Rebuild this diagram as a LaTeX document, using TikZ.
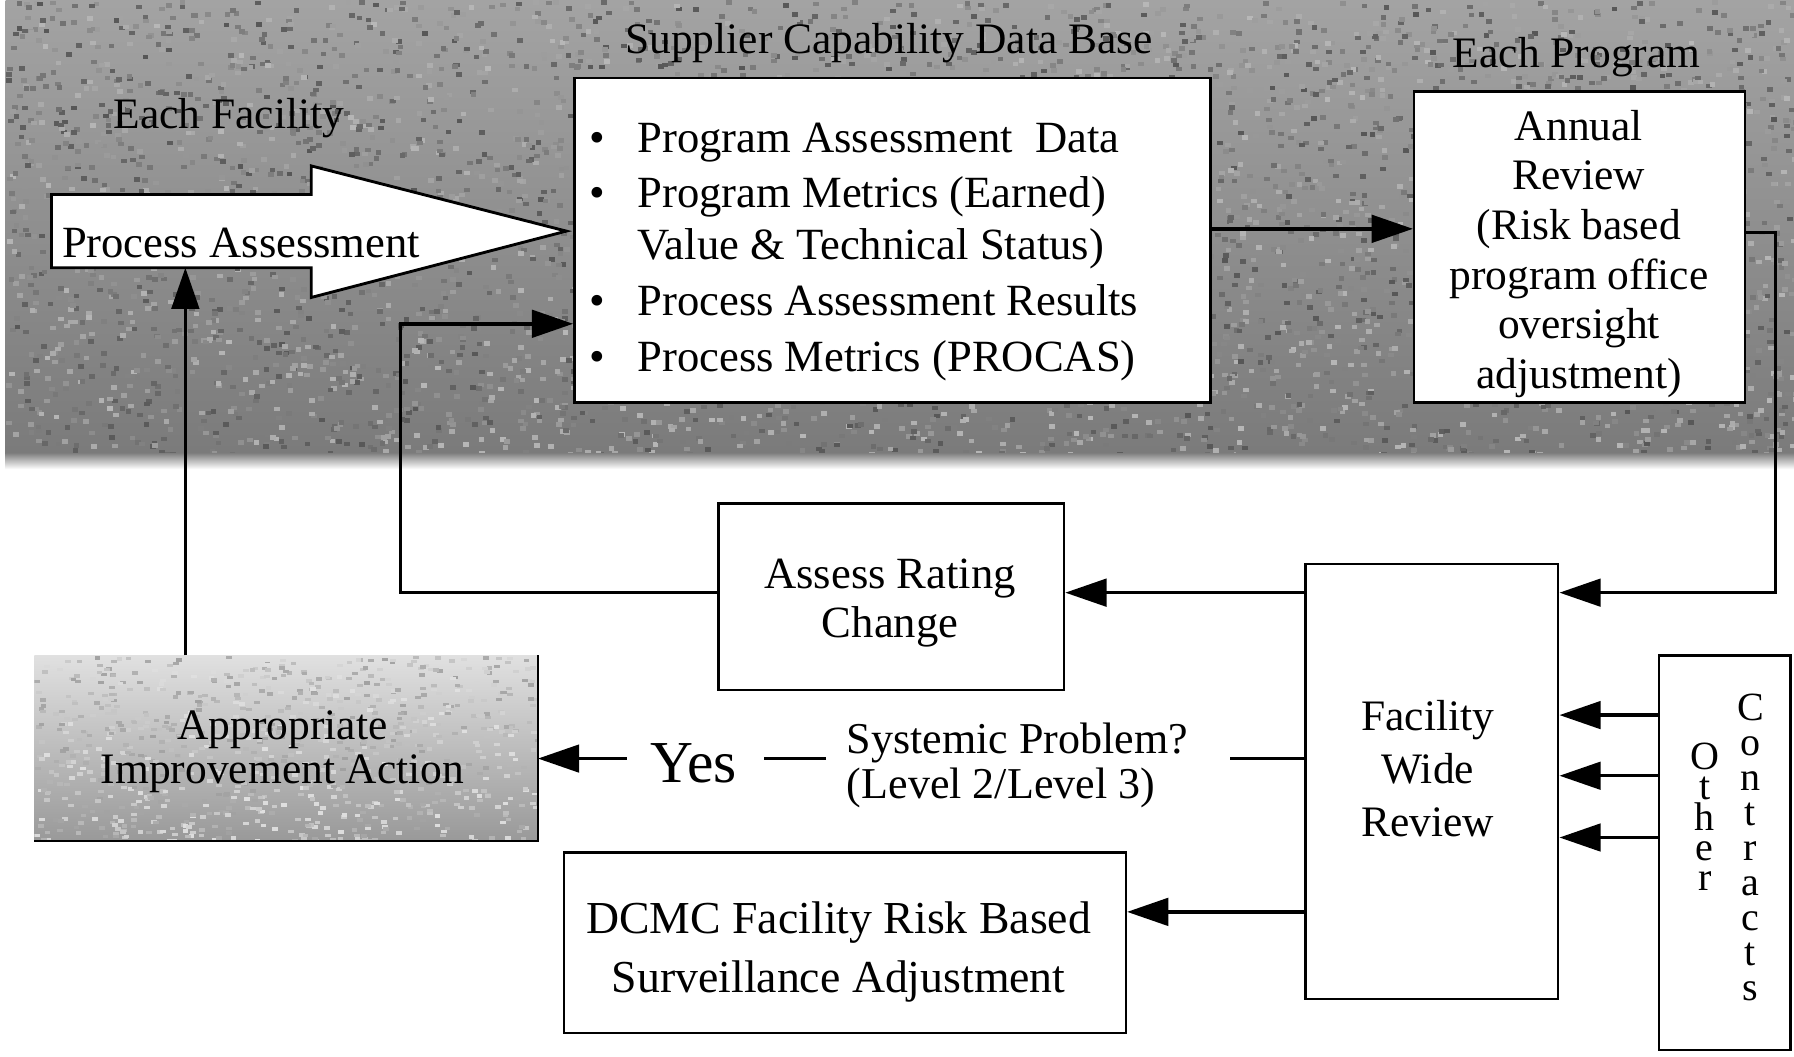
\documentclass[tikz,border=0pt]{standalone}
\usepackage{fontspec}
\setmainfont{Liberation Serif}
\usetikzlibrary{arrows.meta}
\lineskiplimit=-1000pt
\tikzset{
  box/.style={draw=black, line width=2.2pt, fill=white, inner sep=0pt},
  txt/.style={font=\fontsize{39}{46}\selectfont, inner sep=0pt, align=center},
  arr/.style={line width=3pt, -{Triangle[length=36pt,width=24pt]}},
  ln/.style={line width=3pt},
}
\begin{document}
\begin{tikzpicture}[x=1pt,y=-1pt]
\useasboundingbox (0,0) rectangle (1568,923);
\fill[white] (0,0) rectangle (1568,923);
% gray band
\begin{scope}
\clip (5,0) rectangle (1568,400);
\shade[top color=black!36, bottom color=black!52] (5,0) rectangle (1568,400);
\pgfmathsetseed{42}
\foreach \i in {1,...,5000}{
  \pgfmathsetmacro\rx{5+1563*rnd}
  \pgfmathsetmacro\ry{400*rnd}
  \pgfmathsetmacro\rg{28+38*rnd}
  \fill[black!\rg] (\rx,\ry) rectangle ++(5,4);
}
\end{scope}
\shade[top color=black!50, bottom color=white] (5,396) rectangle (1568,410);
% Appropriate improvement action box
\node[minimum width=440pt, minimum height=162pt, inner sep=0pt] (aia) at (250,654) {};
\begin{scope}
\clip (30,573) rectangle (470,735);
\shade[top color=black!12, bottom color=black!40] (30,573) rectangle (470,735);
\pgfmathsetseed{7}
\foreach \i in {1,...,900}{
  \pgfmathsetmacro\rx{30+440*rnd}
  \pgfmathsetmacro\ry{573+162*rnd}
  \pgfmathsetmacro\rg{12+25*rnd}
  \fill[black!\rg] (\rx,\ry) rectangle ++(5,3);
}
\end{scope}
\draw[line width=1.6pt] (aia.north east) -- (aia.south east) -- (aia.south west);
\node[txt, font=\fontsize{38}{38}\selectfont] (aiat) at (247,657) {Appropriate\\Improvement Action};

% titles
\node[txt, font=\fontsize{38}{46}\selectfont] (eft) at (200,103) {Each Facility};
\node[txt, font=\fontsize{38}{46}\selectfont] (sct) at (777,38) {Supplier Capability Data Base};
\node[txt, font=\fontsize{38}{46}\selectfont] (ept) at (1378,50) {Each Program};

% process assessment arrow
\draw[line width=2.5pt, fill=white, line join=miter]
  (45,170) -- (272,170) -- (272,145) -- (495,202) -- (272,260) -- (272,234) -- (45,234) -- cycle;
\node[txt, anchor=base west] (pat) at (54,225) {Process Assessment};
\coordinate (pab) at (162,234);

% database box
\node[box, minimum width=556pt, minimum height=284pt] (db) at (780,210) {};
\node[txt, anchor=base west] (bl1) at (515,133) {\textbullet};
\node[txt, anchor=base west] (bl2) at (515,181) {\textbullet};
\node[txt, anchor=base west] (bl4) at (515,276) {\textbullet};
\node[txt, anchor=base west] (bl5) at (515,325) {\textbullet};
\node[txt, anchor=base west] (d1) at (557,133) {Program Assessment\ \ Data};
\node[txt, anchor=base west] (d2) at (557,181) {Program Metrics (Earned)};
\node[txt, anchor=base west] (d3) at (557,227) {Value \& Technical Status)};
\node[txt, anchor=base west] (d4) at (557,276) {Process Assessment Results};
\node[txt, anchor=base west] (d5) at (557,325) {Process Metrics (PROCAS)};

% annual review box
\node[box, minimum width=289pt, minimum height=272pt] (ar) at (1380.5,216) {};
\node[txt, font=\fontsize{38}{43.4}\selectfont] (art) at (1380,222)
  {Annual\\Review\\(Risk based\\program office\\oversight\\adjustment)};

% assess rating change
\node[box, minimum width=302pt, minimum height=163pt] (ac) at (779,521.5) {};
\node[txt, font=\fontsize{39}{43}\selectfont] (act) at (778,527) {Assess Rating\\Change};

% facility wide review
\node[box, line width=2pt, minimum width=221pt, minimum height=380pt] (fwr) at (1251.5,683) {};
\node[txt, font=\fontsize{38}{46.5}\selectfont] (fwrt) at (1248,672) {Facility\\Wide\\Review};

% other contracts
\node[box, line width=2pt, minimum width=115pt, minimum height=345pt] (oc) at (1507.5,745.5) {};
\node[txt, font=\fontsize{35}{26.5}\selectfont] (oth) at (1490,714) {O\\t\\h\\e\\r};
\node[txt, font=\fontsize{35}{30.6}\selectfont] (con) at (1530,741) {C\\o\\n\\t\\r\\a\\c\\t\\s};

% DCMC box
\node[box, minimum width=491pt, minimum height=158pt] (dc) at (738.5,824) {};
\node[txt, font=\fontsize{40}{52}\selectfont] (dct) at (733,832) {DCMC Facility Risk Based\\Surveillance Adjustment};

% systemic problem / yes
\node[txt, font=\fontsize{38.5}{40}\selectfont, align=left, anchor=west] (sys) at (740,669) {Systemic Problem?\\(Level 2/Level 3)};
\node[txt, font=\fontsize{52}{52}\selectfont] (yes) at (606,667) {Yes};

% coordinates
\coordinate (c1) at (1552,203);
\coordinate (c2) at (1552,518);
\coordinate (c3) at (350,518);
\coordinate (c4) at (350,283);
\coordinate (s1) at (1075,663);
\coordinate (s2) at (722,663);
\coordinate (s3) at (668,663);
\coordinate (s4) at (548,663);

% connectors
\draw[arr] (db.east |- 0,200) -- (ar.west |- 0,200);
\draw[arr] (ar.east |- c1) -- (c1) -- (c2) -- (fwr.east |- c2);
\draw[arr] (fwr.west |- c2) -- (ac.east |- c2);
\draw[arr] (ac.west |- c3) -- (c3) -- (c4) -- (db.west |- c4);
\draw[arr] (aia.north -| pab) -- (pab);
\draw[arr] (oc.west |- 0,625) -- (fwr.east |- 0,625);
\draw[arr] (oc.west |- 0,678) -- (fwr.east |- 0,678);
\draw[arr] (oc.west |- 0,732) -- (fwr.east |- 0,732);
\draw[ln] (fwr.west |- s1) -- (s1);
\draw[ln] (s2) -- (s3);
\draw[arr] (s4) -- (aia.east |- s4);
\draw[arr] (fwr.west |- 0,797) -- (dc.east |- 0,797);
\end{tikzpicture}
\end{document}
